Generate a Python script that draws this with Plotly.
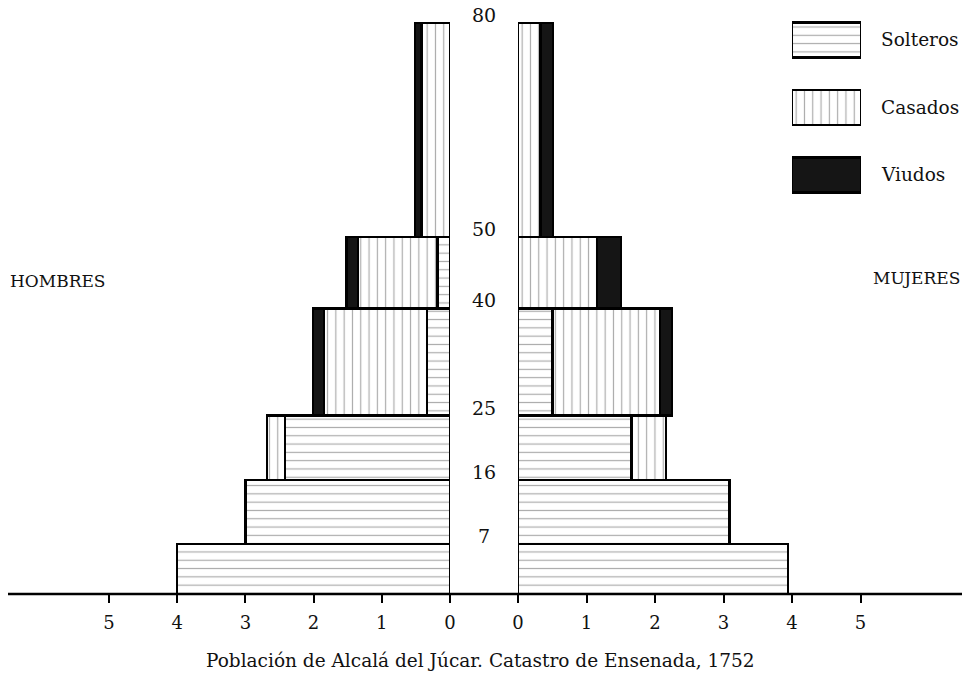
import plotly.graph_objects as go

# ---- data ----
age_bounds = [0, 7, 16, 25, 40, 50, 80]
age_labels = ["7", "16", "25", "40", "50", "80"]

hombres_solteros = [4.00, 3.00, 2.42, 0.34, 0.18, 0.00]
hombres_casados  = [0.00, 0.00, 0.26, 1.51, 1.17, 0.42]
hombres_viudos   = [0.00, 0.00, 0.00, 0.16, 0.17, 0.09]

mujeres_solteros = [3.94, 3.09, 1.66, 0.50, 0.00, 0.00]
mujeres_casados  = [0.00, 0.00, 0.50, 1.57, 1.15, 0.33]
mujeres_viudos   = [0.00, 0.00, 0.00, 0.18, 0.35, 0.18]

series_names = ["Solteros", "Casados", "Viudos"]
tick_vals = [0, 1, 2, 3, 4, 5]

# ---- derived ----
centers = [(a + b) / 2 for a, b in zip(age_bounds[:-1], age_bounds[1:])]
widths = [b - a for a, b in zip(age_bounds[:-1], age_bounds[1:])]

FONT = "DejaVu Serif"
W, H = 965, 677
B = 83
PH = H - B

styles = {
    "Solteros": dict(color="white", pattern=dict(shape="-", fgcolor="#555", bgcolor="white", size=8.3, solidity=0.14, fillmode="overlay")),
    "Casados": dict(color="white", pattern=dict(shape="|", fgcolor="#555", bgcolor="white", size=8.3, solidity=0.14, fillmode="overlay")),
    "Viudos": dict(color="#151515"),
}

fig = go.Figure()

left = {"Solteros": hombres_solteros, "Casados": hombres_casados, "Viudos": hombres_viudos}
right = {"Solteros": mujeres_solteros, "Casados": mujeres_casados, "Viudos": mujeres_viudos}

for name in series_names:
    fig.add_trace(go.Bar(
        x=left[name], y=centers, width=widths, orientation="h",
        marker=dict(**styles[name], line=dict(color="black", width=2.5)),
        xaxis="x", yaxis="y", showlegend=False, name=name, hoverinfo="skip"))
for name in series_names:
    fig.add_trace(go.Bar(
        x=right[name], y=centers, width=widths, orientation="h",
        marker=dict(**styles[name], line=dict(color="black", width=2.5)),
        xaxis="x2", yaxis="y2", showlegend=False, name=name, hoverinfo="skip"))

# legend swatches
for i, name in enumerate(series_names):
    fig.add_trace(go.Bar(
        x=[1], y=[i], width=[0.52], orientation="h",
        marker=dict(**styles[name], line=dict(color="black", width=2.5)),
        xaxis="x3", yaxis="y3", showlegend=False, name=name, hoverinfo="skip"))

yr = [0, 83.2]
xmax = 6.48
fig.update_layout(
    width=W, height=H,
    margin=dict(l=0, r=0, t=0, b=B, pad=0, autoexpand=False),
    paper_bgcolor="white", plot_bgcolor="rgba(0,0,0,0)",
    barmode="stack",
    showlegend=False,
    font=dict(family=FONT, color="#111"),
    xaxis=dict(domain=[8 / W, 450 / W], range=[xmax, 0], tickvals=tick_vals,
               showgrid=False, zeroline=False, showline=False, automargin=False,
               ticks="outside", ticklen=8, tickwidth=1.5, tickcolor="black",
               tickfont=dict(size=18, family=FONT), ticklabelstandoff=4),
    xaxis2=dict(domain=[518 / W, 962 / W], range=[0, xmax], tickvals=tick_vals,
                showgrid=False, zeroline=False, showline=False, automargin=False,
                ticks="outside", ticklen=8, tickwidth=1.5, tickcolor="black",
                tickfont=dict(size=18, family=FONT), ticklabelstandoff=4),
    yaxis=dict(domain=[0, 1], range=yr, visible=False, automargin=False),
    yaxis2=dict(domain=[0, 1], range=yr, visible=False, anchor="x2", automargin=False),
    xaxis3=dict(domain=[792 / W, 861 / W], range=[0, 1], visible=False, anchor="y3", automargin=False),
    yaxis3=dict(domain=[(PH - 208.75) / PH, (PH - 6.25) / PH], range=[2.5, -0.5],
                visible=False, anchor="x3", automargin=False),
)

# baseline across both halves
fig.add_shape(type="line", xref="paper", yref="paper", x0=8 / W, x1=962 / W, y0=0, y1=0,
              line=dict(color="black", width=2.5))

# age labels
for age, lab in zip(age_bounds[1:], age_labels):
    fig.add_annotation(x=484 / W, xref="paper", y=age, yref="y", text=lab,
                       showarrow=False, xanchor="center", yanchor="bottom", yshift=-5,
                       font=dict(size=19, family=FONT, color="#111"))

# legend labels
for i, name in enumerate(series_names):
    fig.add_annotation(x=879 / W, xref="paper", y=i, yref="y3", text=name,
                       showarrow=False, xanchor="left", yanchor="middle",
                       font=dict(size=18.5, family=FONT, color="#111"))

fig.add_annotation(x=8 / W, xref="paper", y=(PH - 281) / PH, yref="paper", text="HOMBRES",
                   showarrow=False, xanchor="left", yanchor="middle",
                   font=dict(size=17, family=FONT, color="#111"))
fig.add_annotation(x=962 / W, xref="paper", y=(PH - 278) / PH, yref="paper", text="MUJERES",
                   showarrow=False, xanchor="right", yanchor="middle",
                   font=dict(size=17, family=FONT, color="#111"))
fig.add_annotation(x=480 / W, xref="paper", y=(PH - 660) / PH, yref="paper",
                   text="Población de Alcalá del Júcar. Catastro de Ensenada, 1752",
                   showarrow=False, xanchor="center", yanchor="middle",
                   font=dict(size=18.5, family=FONT, color="#111"))

fig.write_html("out.html",
               config={"displayModeBar": False},
               post_script="document.body.style.margin='0';document.body.style.overflow='hidden';")
